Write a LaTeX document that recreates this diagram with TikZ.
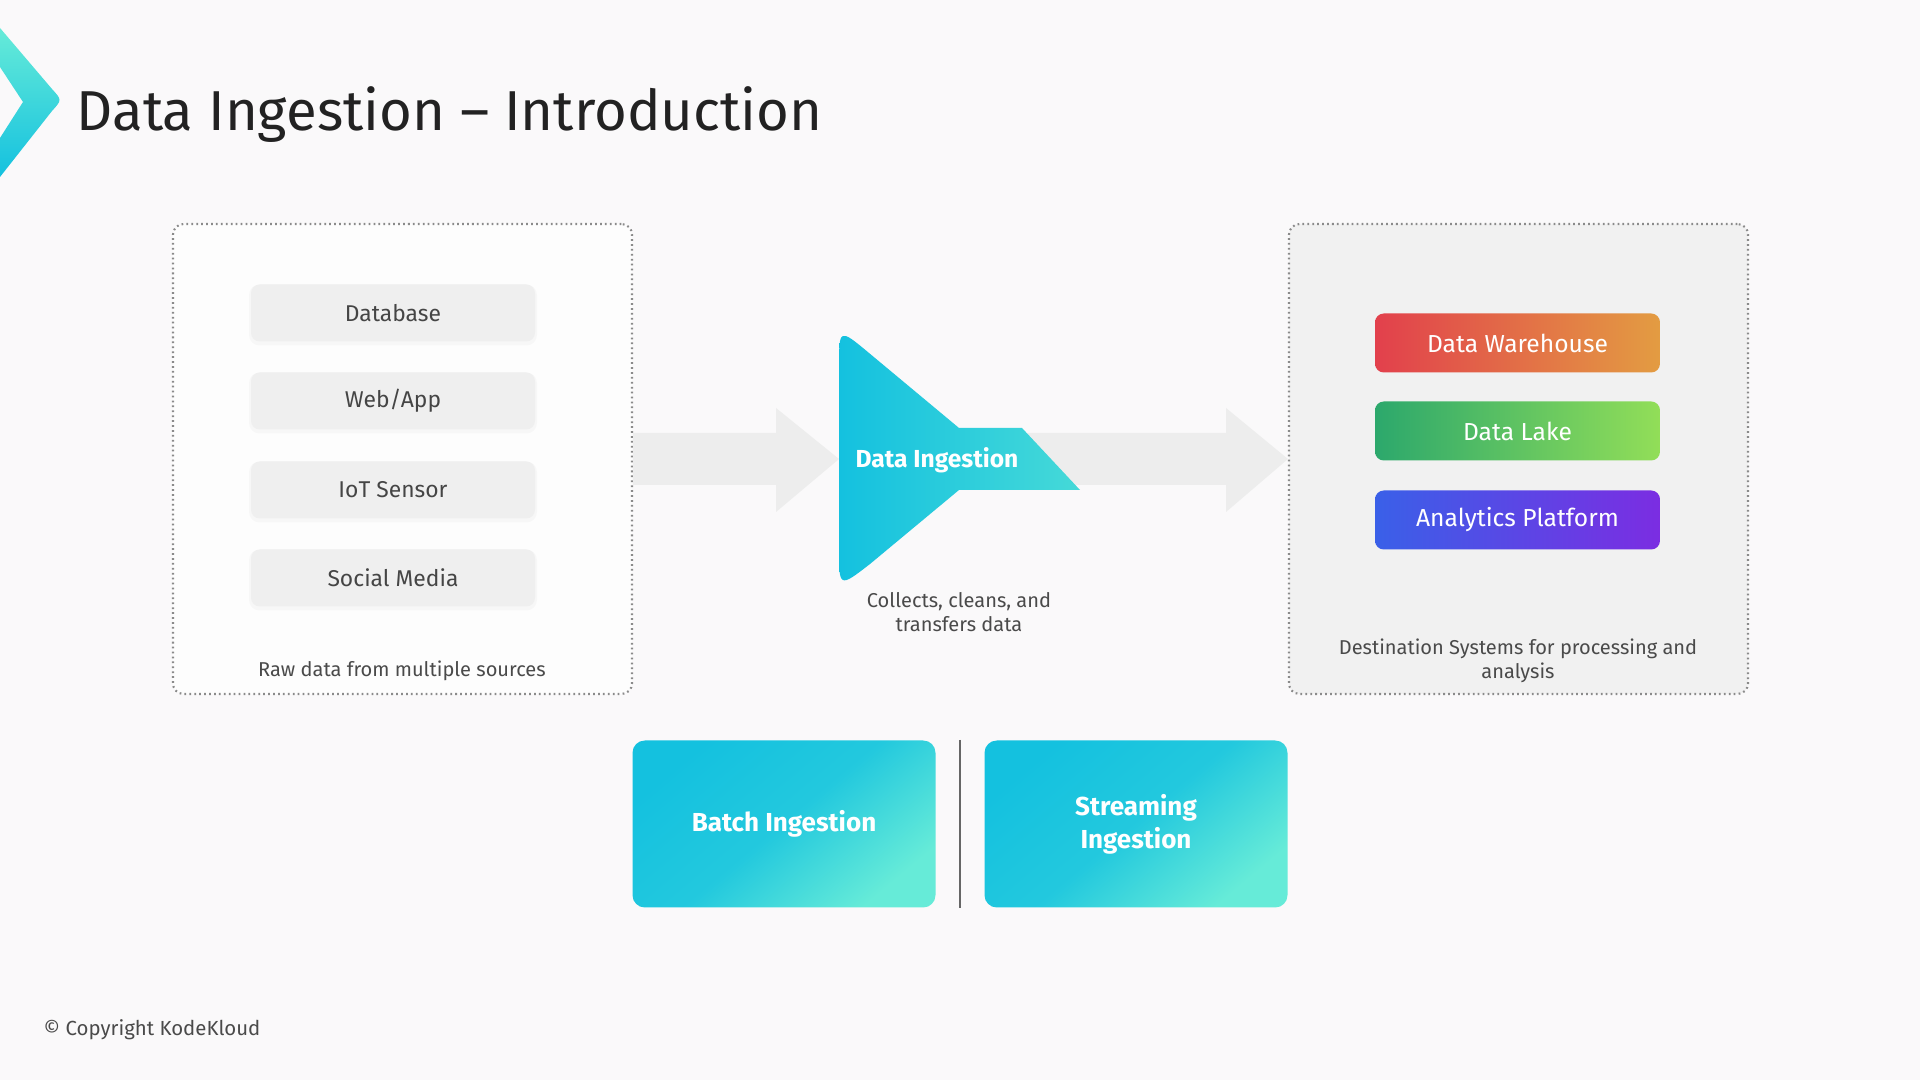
\documentclass[tikz,border=0pt]{standalone}
\usepackage{fontspec}
\setmainfont{Fira Sans}
\usetikzlibrary{calc}
\definecolor{bg}{HTML}{FAF9FA}
\definecolor{itemfill}{HTML}{EFEFEF}
\definecolor{itemtext}{HTML}{454545}
\definecolor{captext}{HTML}{4A4A4A}
\definecolor{dotc}{HTML}{8A8A8A}
\definecolor{rightfill}{HTML}{F1F1F1}
\definecolor{arrowc}{HTML}{EDEDED}
\definecolor{cyanA}{HTML}{14C1DF}
\definecolor{cyanB}{HTML}{45D9D8}
\definecolor{mintB}{HTML}{66EBD8}
\definecolor{whA}{HTML}{E2404C}
\definecolor{whB}{HTML}{E39C42}
\definecolor{lkA}{HTML}{2CA86C}
\definecolor{lkB}{HTML}{92DE58}
\definecolor{apA}{HTML}{3A60E8}
\definecolor{apB}{HTML}{7B2DE2}
\definecolor{titlec}{HTML}{222222}
\tikzset{
  panel/.style={draw=dotc, line width=0.6pt, dash pattern=on 0.5pt off 0.9pt, rounded corners=3pt, minimum width=459*0.01cm, minimum height=470*0.01cm},
  srcitem/.style={fill=itemfill, rounded corners=2.5pt, minimum width=284*0.01cm, minimum height=57*0.01cm, text=itemtext, font=\fontsize{6.5}{8}\selectfont},
  srcshadow/.style={fill=black, fill opacity=0.025, rounded corners=3pt, minimum width=288*0.01cm, minimum height=61*0.01cm},
  dstitem/.style={rounded corners=2.5pt, minimum width=285*0.01cm, minimum height=59*0.01cm, text=white, font=\fontsize{7}{8}\selectfont},
  caption/.style={text=captext, font=\fontsize{5.7}{6.9}\selectfont, align=center},
  kindbox/.style={rounded corners=3.5pt, minimum width=303*0.01cm, minimum height=167*0.01cm, text=white, font=\bfseries\fontsize{7.4}{9.4}\selectfont, align=center, top color=cyanA, bottom color=mintB, middle color=cyanA!82!mintB, shading angle=40},
  bigarrow/.style={fill=arrowc}
}
\begin{document}
\begin{tikzpicture}[x=0.01cm,y=-0.01cm]
\fill[bg] (0,0) rectangle (1920,1080);
\useasboundingbox (0,0) rectangle (1920,1080);

% logo chevron
\shade[top color=mintB, bottom color=cyanA] (0,28) -- (52,89) .. controls (62,100) .. (52,111) -- (0,177) -- (0,138) -- (23,102) -- (0,67) -- cycle;

% title
\node[anchor=base west, text=titlec, font=\fontsize{16}{20}\selectfont, inner sep=0pt] (title) at (76,131) {Data Ingestion – Introduction};

% panels
\node[panel, fill=white!60!bg] (src) at (402.5,459) {};
\node[panel, fill=rightfill] (dst) at (1518.5,459) {};

% big arrows (behind the ingestion shape)
\coordinate (ingL) at (839,459);
\coordinate (ingR) at (1000,459);
\fill[bigarrow] (src.east |- 0,433) -- (776,433) -- (776,408) -- (ingL) -- (776,512) -- (776,485) -- (src.east |- 0,485) -- cycle;
\fill[bigarrow] (ingR |- 0,433) -- (1226,433) -- (1226,408) -- (dst.west) -- (1226,512) -- (1226,485) -- (ingR |- 0,485) -- cycle;

% ingestion shape
\shade[left color=cyanA, middle color=cyanA!92!cyanB, right color=cyanB]
  (959,428) -- (1022,428) -- (1080,490) -- (959,490) -- (870,564) .. controls (839,588) .. (839,548)
  -- (839,368) .. controls (839,328) .. (869,353) -- cycle;
\node[text=white, font=\bfseries\fontsize{7}{8}\selectfont] (ing) at (937,460) {Data Ingestion};
\node[caption, anchor=north] (ingcap) at (959,580) {Collects, cleans, and\\transfers data};

% sources (with faint shadows)
\foreach \yy in {313,401,490,578} {\node[srcshadow] at (393,\yy+2) {};}
\node[srcitem] (db) at (393,313) {Database};
\node[srcitem] (web) at (393,401) {Web/App};
\node[srcitem] (iot) at (393,490) {IoT Sensor};
\node[srcitem] (soc) at (393,578) {Social Media};
\node[caption] (srccap) at (402,671) {Raw data from multiple sources};

% destinations
\node[dstitem, left color=whA, right color=whB] (dw) at (1517.5,343) {Data Warehouse};
\node[dstitem, left color=lkA, right color=lkB] (dl) at (1517.5,431) {Data Lake};
\node[dstitem, left color=apA, right color=apB] (ap) at (1517.5,520) {Analytics Platform};
\node[caption] (dstcap) at (1518,661) {Destination Systems for processing and\\analysis};

% ingestion kinds
\node[kindbox] (batch) at (784,824) {Batch Ingestion};
\node[kindbox] (stream) at (1136,824) {Streaming\\Ingestion};
\coordinate (divtop) at (960,740);
\coordinate (divbot) at (960,908);
\draw[draw=black!60, line width=0.7pt] (divtop) -- (divbot);

% footer
\node[anchor=base west, text=captext, font=\fontsize{5.8}{7}\selectfont, inner sep=0pt] (copy) at (43,1036) {© Copyright KodeKloud};
\end{tikzpicture}
\end{document}
